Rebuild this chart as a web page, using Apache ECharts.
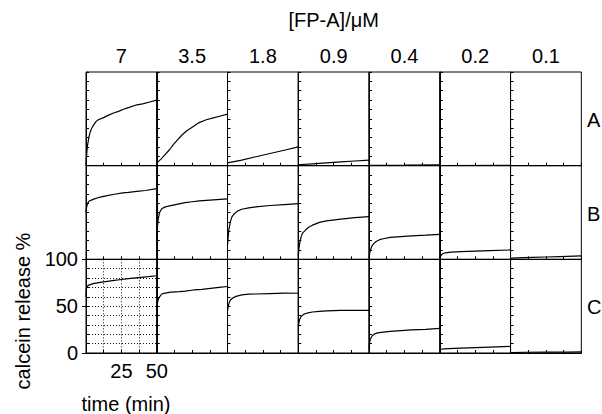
<!DOCTYPE html>
<html>
<head>
<meta charset="utf-8">
<script src="https://cdn.jsdelivr.net/npm/echarts@6/dist/echarts.min.js"></script>
<style>html,body{margin:0;padding:0;background:#fff}#c{width:602px;height:414px}</style>
</head>
<body>
<div id="c"></div>
<script>
// ---- data (time in min, calcein release %) ----
const concentrations = ['7', '3.5', '1.8', '0.9', '0.4', '0.2', '0.1'];
const rowLabels = ['A', 'B', 'C'];
const xTickLabels = [25, 50];
const yTickLabels = [0, 50, 100];

const curveA1 = [[0,0],[0.3,8],[0.9,20],[2,30],[2.8,35],[4,40],[5.2,43],[7,47],[8.7,49],[12,51],[16,54],[19,56],[23,58],[26,60],[30,62],[36,65],[40,66],[45,68],[50,70]];
const curveA2 = [[0,3],[3,7],[6,12],[9,17],[12,23],[15,28],[18,33],[21,37],[25,41],[30,46],[35,49],[40,51],[45,53],[50,55]];
const curveA3 = [[0,3],[10,6],[20,9.5],[30,13],[40,16.5],[50,20]];
const curveA4 = [[0,1],[10,2],[20,3],[30,4],[40,5],[50,6]];
const curveA5 = [[0,0.3],[25,0.6],[50,1]];
const curveA6 = [[0,0.2],[50,0.3]];
const curveA7 = [[0,0.1],[50,0.2]];

const curveB1 = [[0,50],[0.3,55],[1,59],[2,62],[5,64],[10,66.5],[15,68],[20,69.5],[26,71],[30,71.5],[36,72.5],[42,73.5],[50,75.5]];
const curveB2 = [[0,25],[0.5,35],[1,43],[2,50],[3.5,54],[6,56],[9,57],[15,59],[20,60.5],[25,61.5],[30,62.5],[40,63.5],[50,64.5]];
const curveB3 = [[0,15],[0.5,25],[1,32],[2,40],[3,45],[5,49],[7,51.5],[10,53.5],[15,55],[20,56],[30,57.5],[40,58.5],[50,59.5]];
const curveB4 = [[0,3],[0.5,12],[1,17],[2,24],[3,28],[5,31],[7,34],[10,36.5],[15,39.5],[20,41],[30,43],[40,44.5],[50,45.5]];
const curveB5 = [[0,2],[0.5,7],[1,10],[2,14],[3.5,17],[5,19],[7.5,21],[10,22],[15,23.5],[20,24],[30,25],[40,25.8],[50,26.7]];
const curveB6 = [[0,1],[0.5,3],[1,4.5],[2,6],[4,7],[8,7.8],[15,8.3],[25,8.8],[35,9.3],[50,10]];
const curveB7 = [[0,0.5],[1,1.2],[5,1.5],[15,2],[25,2.5],[35,3],[50,3.8]];

const curveC1 = [[0,60],[0.2,68],[0.7,71],[2,72.5],[5,74],[10,75.5],[15,76.5],[20,77.5],[25,78.5],[30,79.5],[37,80.5],[44,81.5],[50,82.5]];
const curveC2 = [[0,45],[0.3,52],[1,57],[2,60],[3.5,63],[6,64],[10,65],[16,65.5],[20,66],[26,67.3],[32,68],[38,69],[44,70],[50,71]];
const curveC3 = [[0,45],[0.5,50],[1,53],[2,56.5],[4,59],[6,60.5],[10,62],[15,62.8],[20,63],[30,63.5],[40,64],[50,63.8]];
const curveC4 = [[0,28],[0.5,33],[1,36],[2,39],[4,41.5],[6,42.5],[10,43.8],[15,44.5],[20,45],[30,45.5],[40,45.5],[50,45.5]];
const curveC5 = [[0,5],[0.5,12],[1,15],[2,18],[4,20.5],[6,21.5],[10,22.3],[15,23],[20,23.7],[30,24.6],[40,25.3],[50,26.3]];
const curveC6 = [[0,1],[0.5,3],[1,4],[3,4.5],[10,5],[20,5.5],[30,6],[40,6.5],[50,7]];
const curveC7 = [[0,0.5],[10,0.8],[25,1],[40,1],[50,1.2]];

const curves = [
  [curveA1, curveA2, curveA3, curveA4, curveA5, curveA6, curveA7],
  [curveB1, curveB2, curveB3, curveB4, curveB5, curveB6, curveB7],
  [curveC1, curveC2, curveC3, curveC4, curveC5, curveC6, curveC7]
];

// ---- layout ----
const FONT = "'Liberation Sans', Arial, Helvetica, sans-serif";
const gridLeft = 86, gridTop = 72, panelW = 70.76, panelH = 93.67;

const grids = [], xAxes = [], yAxes = [], series = [], extraY = [];
for (let r = 0; r < 3; r++) {
  for (let c = 0; c < 7; c++) {
    const idx = r * 7 + c;
    const isC1 = (r === 2 && c === 0);
    grids.push({
      left: gridLeft + c * panelW, top: gridTop + r * panelH,
      width: panelW, height: panelH,
      show: true, borderColor: '#000', borderWidth: 1, backgroundColor: 'transparent'
    });
    xAxes.push({
      gridIndex: idx, type: 'value', min: 0, max: 50, interval: 12.5,
      axisLine: { show: true, onZero: false, lineStyle: { color: '#000', width: 1 } },
      axisTick: { show: true, inside: true, length: 3, lineStyle: { color: '#000' } },
      axisLabel: {
        show: isC1, color: '#000', fontSize: 20, fontFamily: FONT, margin: 8,
        showMinLabel: true, showMaxLabel: true,
        formatter: v => xTickLabels.indexOf(v) >= 0 ? String(v) : ''
      },
      splitLine: { show: isC1, lineStyle: { type: [1, 2], color: '#111', width: 1 } }
    });
    yAxes.push({
      gridIndex: idx, type: 'value', min: 0, max: 100, interval: 10,
      axisLine: { show: true, onZero: false, lineStyle: { color: '#000', width: 1 } },
      axisTick: { show: true, inside: true, length: 3, lineStyle: { color: '#000' } },
      axisLabel: { show: false },
      splitLine: { show: isC1, lineStyle: { type: [1, 2], color: '#111', width: 1 } }
    });
    if (isC1) {
      extraY.push({
        gridIndex: idx, type: 'value', min: 0, max: 100, interval: 50, position: 'left',
        axisLine: { show: true, onZero: false, lineStyle: { color: '#000', width: 1 } },
        axisTick: { show: true, inside: false, length: 4, lineStyle: { color: '#000' } },
        axisLabel: {
          show: true, color: '#000', fontSize: 20, fontFamily: FONT, margin: 8,
          formatter: v => yTickLabels.indexOf(v) >= 0 ? String(v) : ''
        },
        splitLine: { show: false }
      });
    }
    series.push({
      type: 'line', xAxisIndex: idx, yAxisIndex: idx,
      data: curves[r][c], showSymbol: false, symbol: 'none', smooth: false,
      lineStyle: { color: '#000', width: 1.2 }, silent: true, animation: false
    });
  }
}
const allY = yAxes.concat(extraY);

const graphics = [];
graphics.push({ type: 'text', x: gridLeft + 3.5 * panelW, y: 20,
  style: { text: '[FP-A]/μM', font: '20px ' + FONT, fill: '#000', align: 'center', verticalAlign: 'middle' } });
concentrations.forEach((t, c) => graphics.push({ type: 'text', x: gridLeft + (c + 0.5) * panelW, y: 56,
  style: { text: t, font: '20px ' + FONT, fill: '#000', align: 'center', verticalAlign: 'middle' } }));
rowLabels.forEach((t, r) => graphics.push({ type: 'text', x: 587, y: gridTop + (r + 0.5) * panelH + 1,
  style: { text: t, font: '20px ' + FONT, fill: '#000', align: 'left', verticalAlign: 'middle' } }));
graphics.push({ type: 'text', x: 23, y: 311, rotation: Math.PI / 2,
  style: { text: 'calcein release %', font: '20px ' + FONT, fill: '#000', align: 'center', verticalAlign: 'middle' } });
graphics.push({ type: 'text', x: 126, y: 404,
  style: { text: 'time (min)', font: '20px ' + FONT, fill: '#000', align: 'center', verticalAlign: 'middle' } });

const chart = echarts.init(document.getElementById('c'), null, { renderer: 'svg', width: 602, height: 414 });
chart.setOption({
  animation: false,
  backgroundColor: '#fff',
  grid: grids, xAxis: xAxes, yAxis: allY, series: series,
  graphic: graphics
});
</script>
</body>
</html>
